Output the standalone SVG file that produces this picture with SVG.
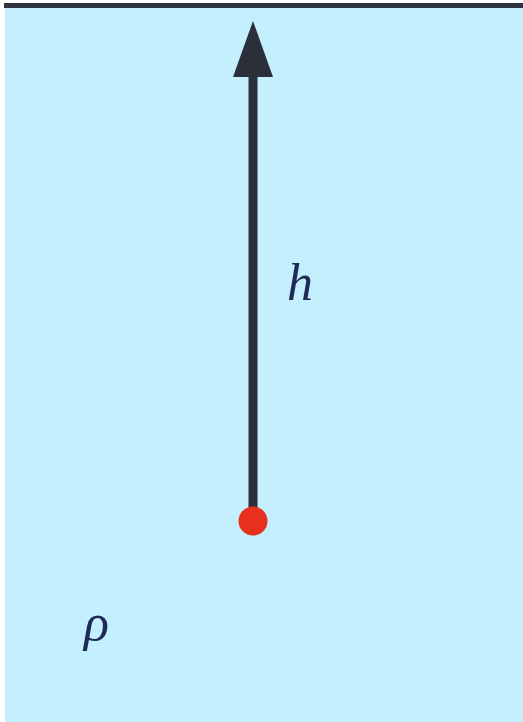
<svg xmlns="http://www.w3.org/2000/svg" width="523" height="722" viewBox="0 0 523 722">
<style>
.lbl{font-family:"Liberation Serif","DejaVu Serif",serif;font-style:italic;font-size:52px;fill:#1f2a55}
</style>
<rect x="0" y="0" width="523" height="722" fill="#ffffff"/>
<rect x="5" y="4" width="518" height="718" fill="#c4effc"/>
<rect x="4" y="3" width="519" height="5" fill="#2e3440"/>
<g id="connectors">
<line x1="253" y1="75" x2="253" y2="520" stroke="#2a2f3a" stroke-width="9"/>
<polygon points="253,21 233,77 273,77" fill="#2a2f3a"/>
</g>
<g id="point"><circle cx="253" cy="521" r="14.5" fill="#e8301e"/></g>
<g id="label-h"><text class="lbl" x="287" y="300">h</text></g>
<g id="label-rho"><text class="lbl" x="84" y="640">ρ</text></g>
</svg>
